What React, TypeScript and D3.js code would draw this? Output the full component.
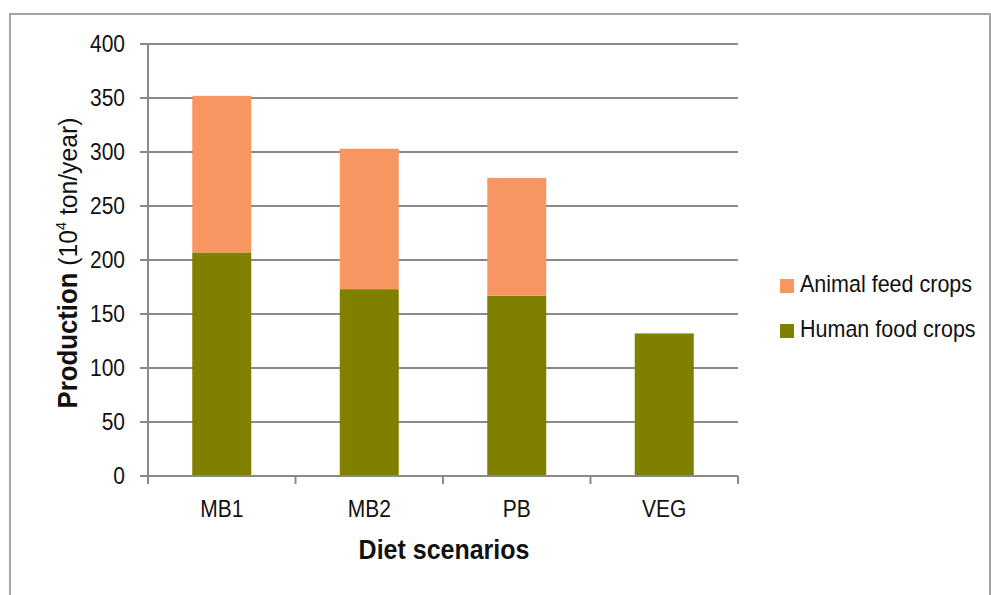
import React from "react";
import * as d3 from "d3";

const categories = ["MB1", "MB2", "PB", "VEG"];
const humanFood = [207, 173, 167, 132];
const animalFeed = [145, 130, 109, 0];
const yTicks = [0, 50, 100, 150, 200, 250, 300, 350, 400];
const seriesNames = ["Animal feed crops", "Human food crops"];
const seriesColors = ["#F79660", "#808000"];

const W = 991;
const H = 595;
const plot = { left: 148, right: 738, top: 44, bottom: 476 };
const font = "'Liberation Sans', Arial, sans-serif";
const gridColor = "#8a8a8a";
// slightly tall lettering
const stretch = "scale(1,1.1)";

export default function App() {
  const x = d3
    .scaleBand<string>()
    .domain(categories)
    .range([plot.left, plot.right])
    .paddingInner(0.6)
    .paddingOuter(0.3);
  const y = d3.scaleLinear().domain([0, 400]).range([plot.bottom, plot.top]);

  const rows = categories.map((c, i) => ({ cat: c, human: humanFood[i], animal: animalFeed[i] }));
  const stack = d3.stack<any>().keys(["human", "animal"])(rows);
  const colorFor: Record<string, string> = { human: seriesColors[1], animal: seriesColors[0] };

  const step = x.step();
  const tickXs = d3.range(categories.length + 1).map((i) => plot.left + i * step);

  return (
    <svg
      width={W}
      height={H}
      style={{ position: "absolute", left: 0, top: 0, background: "#fff" }}
    >
      {/* outer frame */}
      <path d={`M10,${H} V14 H990 V${H}`} fill="none" stroke="#a3a3a3" strokeWidth={2} />

      {/* horizontal gridlines */}
      {yTicks.map((t) => (
        <line
          key={t}
          x1={plot.left - 8}
          x2={plot.right}
          y1={y(t)}
          y2={y(t)}
          stroke={gridColor}
          strokeWidth={2}
        />
      ))}

      {/* stacked bars */}
      {stack.map((layer) =>
        layer.map((d, i) =>
          d[1] - d[0] > 0 ? (
            <rect
              key={layer.key + i}
              x={x(categories[i])!}
              width={x.bandwidth()}
              y={y(d[1])}
              height={y(d[0]) - y(d[1])}
              fill={colorFor[layer.key]}
            />
          ) : null
        )
      )}

      {/* axes */}
      <line x1={plot.left} x2={plot.left} y1={plot.top} y2={plot.bottom} stroke={gridColor} strokeWidth={2} />
      <line x1={plot.left} x2={plot.right} y1={plot.bottom} y2={plot.bottom} stroke={gridColor} strokeWidth={2} />
      {tickXs.map((tx, i) => (
        <line key={i} x1={tx} x2={tx} y1={plot.bottom} y2={plot.bottom + 8} stroke={gridColor} strokeWidth={2} />
      ))}

      {/* y tick labels */}
      {yTicks.map((t) => (
        <g key={t} transform={`translate(125,${y(t)}) ${stretch}`}>
          <text dy="0.36em" textAnchor="end" fontFamily={font} fontSize={21} fill="#111">
            {t}
          </text>
        </g>
      ))}

      {/* x category labels */}
      {categories.map((c) => (
        <g key={c} transform={`translate(${x(c)! + x.bandwidth() / 2},517) ${stretch}`}>
          <text textAnchor="middle" fontFamily={font} fontSize={21} fill="#111">
            {c}
          </text>
        </g>
      ))}

      {/* axis titles */}
      <g transform={`translate(444,559) ${stretch}`}>
        <text textAnchor="middle" fontFamily={font} fontSize={25} fontWeight="bold" fill="#111">
          Diet scenarios
        </text>
      </g>
      <g transform={`translate(77,263) rotate(-90) scale(1.03,1.1)`}>
        <text textAnchor="middle" fontFamily={font} fill="#111">
          <tspan fontSize={25} fontWeight="bold">Production</tspan>
          <tspan fontSize={24}> (10</tspan>
          <tspan fontSize={14} dy={-10}>4</tspan>
          <tspan fontSize={24} dy={10}> ton/year)</tspan>
        </text>
      </g>

      {/* legend */}
      {seriesNames.map((name, i) => (
        <g key={name} transform={`translate(780,${279 + i * 45})`}>
          <rect width={14} height={14} fill={seriesColors[i]} />
          <g transform={`translate(20,13) ${stretch}`}>
            <text fontFamily={font} fontSize={21.5} fill="#111">
              {name}
            </text>
          </g>
        </g>
      ))}
    </svg>
  );
}
